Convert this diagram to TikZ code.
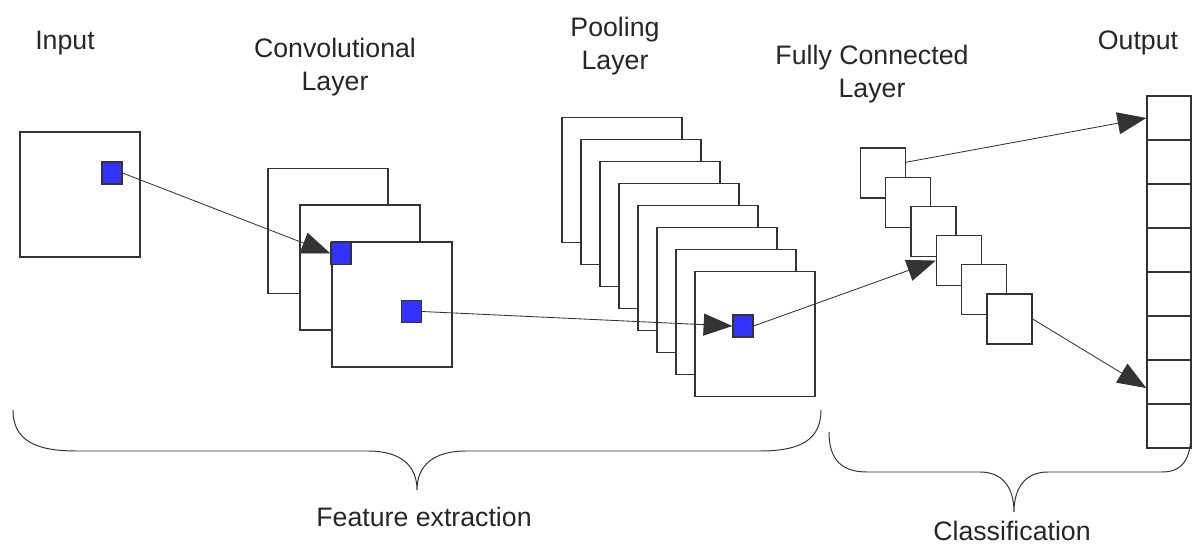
\documentclass[tikz,border=0pt]{standalone}
\usepackage{fontspec}
\setmainfont{Liberation Sans}
\usetikzlibrary{arrows.meta}
\definecolor{myblue}{rgb}{0.2,0.2,1}
\definecolor{myline}{rgb}{0.2,0.2,0.2}
\newcommand{\LblFont}{\fontsize{19}{24}\selectfont}

\begin{document}
\begin{tikzpicture}[x=0.025cm,y=-0.025cm,>={Triangle[length=0.72cm,width=0.55cm]},
  fmap/.style={draw=myline, line width=0.9pt, fill=white, minimum width=3cm, minimum height=3.125cm, inner sep=0pt},
  pix/.style={draw=myline, line width=0.8pt, fill=myblue, minimum width=0.5cm, minimum height=0.55cm, inner sep=0pt},
  fcbox/.style={draw=myline, line width=0.9pt, fill=white, minimum width=1.125cm, minimum height=1.25cm, inner sep=0pt},
  cell/.style={draw=myline, line width=0.9pt, fill=white, minimum width=1.1cm, minimum height=1.1cm, inner sep=0pt},
  lbl/.style={text=black!85, font=\LblFont, align=center},
  brc/.style={draw=myline, line width=0.7pt}]
  \useasboundingbox (0,0) rectangle (1192,544);

  % labels
  \node[lbl] (LIn)   at (65, 43)   {Input};
  \node[lbl] (LConv) at (335, 67)  {Convolutional\\Layer};
  \node[lbl] (LPool) at (615, 46)  {Pooling\\Layer};
  \node[lbl] (LFc)   at (872, 74)  {Fully Connected\\Layer};
  \node[lbl] (LOut)  at (1138, 43) {Output};

  % input
  \node[fmap] (In)   at (80, 194.5)  {};
  \node[pix]  (InPx) at (112, 173)   {};

  % convolution
  \node[fmap] (C0)   at (328, 231)   {};
  \node[fmap] (C1)   at (360, 267.5) {};
  \node[fmap] (C2)   at (392, 304.5) {};
  \node[pix]  (CPx0) at (341, 253.5) {};
  \node[pix]  (CPx1) at (411.5, 311.5) {};

  % pooling
  \node[fmap] (P0) at (622, 180) {};
  \node[fmap] (P1) at (641, 202) {};
  \node[fmap] (P2) at (660, 224) {};
  \node[fmap] (P3) at (679, 246) {};
  \node[fmap] (P4) at (698, 268) {};
  \node[fmap] (P5) at (717, 290) {};
  \node[fmap] (P6) at (736, 312) {};
  \node[fmap] (P7) at (755, 334) {};
  \node[pix]  (PPx) at (743, 326) {};

  % fully connected
  \node[fcbox] (F0) at (883, 173)    {};
  \node[fcbox] (F1) at (908.3, 202.2) {};
  \node[fcbox] (F2) at (933.6, 231.4) {};
  \node[fcbox] (F3) at (958.9, 260.6) {};
  \node[fcbox] (F4) at (984.2, 289.8) {};
  \node[fcbox] (F5) at (1009.5, 319)  {};

  % output
  \node[cell] (O0) at (1169, 118) {};
  \node[cell] (O1) at (1169, 162) {};
  \node[cell] (O2) at (1169, 206) {};
  \node[cell] (O3) at (1169, 250) {};
  \node[cell] (O4) at (1169, 294) {};
  \node[cell] (O5) at (1169, 338) {};
  \node[cell] (O6) at (1169, 382) {};
  \node[cell] (O7) at (1169, 426) {};

  \draw[->, myline, line width=0.6pt] (InPx.east) -- (CPx0.west);
  \draw[->, myline, line width=0.6pt] (CPx1.east) -- (PPx.west);
  \draw[->, myline, line width=0.6pt] (PPx.east) -- (F3.west);
  \draw[->, myline, line width=0.6pt] (F0.25) -- (O0.west);
  \draw[->, myline, line width=0.6pt] (F5.east) -- (O6.195);

  % braces
  \draw[brc] (13,410) .. controls (13,440) and (35,451) .. (76,451) -- (368,451)
    .. controls (400,451) and (417,465) .. (417,490)
    .. controls (417,465) and (434,451) .. (466,451) -- (760,451)
    .. controls (800,451) and (821,440) .. (821,410);
  \draw[brc] (829,432) .. controls (829,460) and (842,472) .. (867,472) -- (980,472)
    .. controls (1003,472) and (1014,488) .. (1014,512)
    .. controls (1014,488) and (1025,472) .. (1048,472) -- (1162,472)
    .. controls (1182,472) and (1191,460) .. (1191,432);
  \node[lbl] (LFeat)  at (424, 517)  {Feature extraction};
  \node[lbl] (LClass) at (1012, 531) {Classification};
\end{tikzpicture}
\end{document}
